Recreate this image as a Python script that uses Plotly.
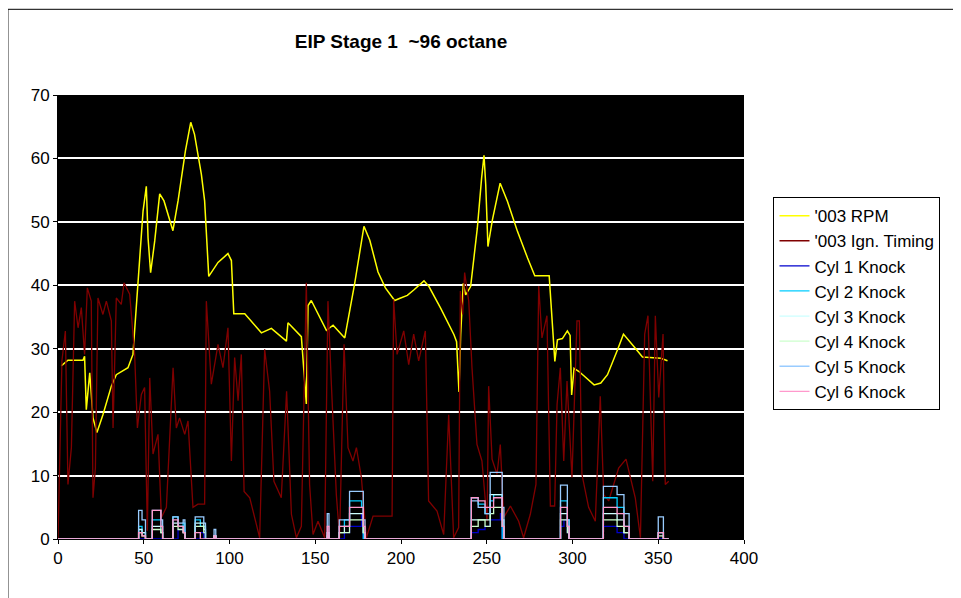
import plotly.graph_objects as go

rpm_x = [1.9, 5.8, 14.6, 15.5, 16.5, 18.5, 20.4, 22.7, 26.2, 31.1, 34, 40.8, 43.7, 46.6, 49.6, 51.5, 52.5, 54,
         56.4, 59.3, 61.8, 67, 70, 74.3, 77.4, 79.6, 83.6, 85.5, 87.9, 93.3, 99.1, 101.1, 102.5, 108.9, 115.7,
         118.6, 124.4, 133.2, 134.1, 141.9, 144.8, 145.8, 147.7, 156.5, 160.4, 167.2, 173, 178.4, 181.8, 186.6,
         190.9, 196.3, 199.8, 203.7, 207.6, 213.4, 216.3, 223.1, 230.9, 232.4, 233.8, 234.8, 236.3, 237.7,
         240.6, 244.5, 247, 248.4, 249.4, 250.7, 253.3, 257.8, 262.1, 267.9, 273.8, 278, 286.4, 288.3, 289.7,
         291.2, 294.1, 297, 298.6, 299.5, 300.9, 303.8, 312.6, 316.5, 320.4, 326.2, 329.7, 335.9, 340.8,
         351.5, 355.4]
rpm_y = [27.3, 28.2, 28.2, 28.8, 20.4, 26.2, 19.1, 16.8, 19.6, 24.1, 25.9, 27, 29.1, 40.7, 51.7, 55.6, 47.5, 42,
         47, 54.4, 53.3, 48.6, 53.3, 61.2, 65.7, 63.8, 57.5, 53.3, 41.4, 43.6, 45, 43.9, 35.5, 35.5, 33.4,
         32.5, 33.2, 31.2, 34.1, 31.9, 21.3, 36.8, 37.6, 32.9, 33.7, 31.7, 40.3, 49.3, 47.1, 42.1,
         39.6, 37.6, 38, 38.4, 39.3, 40.7, 39.8, 36.4, 32.2, 31.1, 23.2, 32.2, 40.3, 38.5,
         39.8, 49, 56.9, 60.5, 55.9, 46.1, 50.3, 56.1, 53.2, 48.5, 44.3, 41.5, 41.5, 34.3, 28,
         31.4, 31.6, 32.8, 32.1, 22.7, 26.9, 26.4, 24.3, 24.6, 25.9, 29.8, 32.3, 30.3, 28.7,
         28.5, 28.1]

ign_x = [0, 1, 2.3, 4.3, 5.8, 7.8, 9.7, 11.7, 13.6, 15.5, 17.1, 19.4, 20.4, 21.8, 23.3, 26.2, 28.2, 31.1, 32.1,
         34, 36.9, 38.5, 41.8, 44.7, 46.3, 48.6, 50.5, 52.1, 53.5, 55.4, 58.3, 60.3, 63.2, 67.1, 69, 70.9,
         73.9, 75.8, 78.7, 81.6, 85.5, 86.5, 89.4, 93.3, 96.2, 99.1, 101.1, 103, 105, 106.9, 108.5, 111.8,
         117.6, 120.5, 123.4, 125.9, 130.2, 133.3, 136.1, 139, 141.9, 144.8, 146.7, 148.7, 151.6, 155.5,
         157.4, 159.4, 162.3, 164.2, 166.8, 169.1, 172, 174, 176.9, 179.8, 183.7, 188.9, 194.8, 195.7,
         197.7, 201.6, 204.5, 207.4, 210.3, 214.2, 216.1, 221, 224.9, 227.8, 230.7, 233.6, 234.6, 236,
         237.1, 239.5, 241.4, 244.3, 247.2, 250.2, 251.1, 253.1, 256, 257.9, 259.9, 263.8, 268.6, 271.5,
         275.4, 278.7, 280.3, 282.2, 285.1, 287.1, 289.6, 291, 292.9, 294.9, 296.8, 299.7, 302.6, 304,
         305.5, 309.4, 313.3, 316.2, 318.2, 321.1, 326.9, 331.2, 336.6, 339.6, 342.1, 344, 346.8, 348.3,
         350.3, 352.8, 354.1, 356.1]
ign_y = [0, 13.9, 28.1, 32.8, 8.6, 14.4, 37.5, 33.3, 36.5, 29.1, 39.6, 37.5, 6.5, 11.2, 38, 35.4, 37.5, 34.4, 17.5,
         38, 37, 40.4, 38.6, 29.1, 17.5, 22.8, 23.9, 1.3, 25.4, 13.4, 16.5, 3.4, 5, 27, 17.5, 19.1,
         16.5, 18.6, 5, 5.5, 5.5, 37.5, 24.4, 30.7, 27, 33.3, 12.3, 28.6, 21.8, 29.1, 7.5, 6.5,
         0.2, 29.9, 23.3, 9.1, 6.5, 23.3, 3.9, 0.2, 2, 40.4, 8.6, 0.7, 2.8, 0.2,
         37.5, 24.4, 7, 0.2, 30.7, 14.4, 12.3, 14.4, 9.7, 0.2, 3.6, 3.6, 3.6, 37.8,
         29.1, 32.8, 27.5, 32.3, 28.1, 32.8, 6, 4.4, 0.7, 19.6, 0.2, 1.8, 39.1, 35.4,
         42, 37.5, 27, 14.9, 12.3, 2.8, 24.1, 12.6, 10.2, 14.9, 3.4, 5.2, 2.8, 0.2,
         3.9, 8.6, 39.9, 31.7, 35.2, 5.2, 5.2, 21.2, 27, 12.3, 24.9, 9.7, 34.4, 34.4,
         10.2, 5, 2.8, 22.5, 7, 6, 11.2, 12.6, 6.5, 0.2, 32.3, 35.2, 9.1, 35.2,
         22.3, 32.3, 8.6, 9.1]

knock_x = [0, 46, 47, 49, 51, 54, 55, 59, 60, 61, 66, 67, 70, 73, 74, 79, 80, 83, 85, 86, 90, 91, 92,
           156, 157, 158, 163, 164, 167, 170, 172, 177, 178, 179, 240, 241, 245, 249, 252, 254, 258, 259, 260,
           292, 293, 295, 297, 298, 317, 318, 322, 326, 330, 333, 349, 350, 352, 353, 356]
cyl1 = [0, 0, 0, 0, 0, 0, 0, 0, 0, 0, 0, 0, 1.5, 1.5, 0, 0, 0, 1, 0, 0, 0, 0.5, 0,
        0, 0, 0, 0, 0, 1, 2, 2, 4, 0, 0, 0, 1, 1.5, 2, 3, 3, 4, 0, 0,
        0, 2, 3, 1, 0, 0, 2, 2, 1, 0, 0, 0, 0, 0, 0, 0]
cyl2 = [0, 0, 2, 1, 0, 0, 3, 3, 2, 0, 0, 3.5, 2, 2.5, 0, 0, 3, 2, 2, 0, 0, 0.5, 0,
        0, 1, 0, 0, 2, 3, 6, 6, 5, 0, 0, 0, 6.5, 5.5, 4, 6, 7, 7, 0, 0,
        0, 6, 6, 3, 0, 0, 6.5, 6.5, 5, 2, 0, 0, 1, 1, 0, 0]
cyl3 = [0, 0, 1.5, 1, 0, 0, 2, 2, 1, 0, 0, 2.5, 2, 1, 0, 0, 2.5, 2.5, 1.5, 0, 0, 0.5, 0,
        0, 1, 0, 0, 1, 2, 4, 4, 4, 1, 0, 0, 3, 3, 3, 7, 7, 7, 3, 0,
        0, 4, 4, 2, 0, 0, 4, 4, 3, 1, 0, 0, 1, 1, 0, 0]
cyl4 = [0, 0, 1, 0.5, 0, 0, 1.5, 1.5, 1, 0, 0, 2, 1.5, 1, 0, 0, 2, 2, 1, 0, 0, 0.5, 0,
        0, 0.5, 0, 0, 1, 1, 3, 3, 3, 1, 0, 0, 2, 3, 2, 4, 5, 5, 2, 0,
        0, 3, 3, 1, 0, 0, 3, 3, 2, 1, 0, 0, 0.5, 0.5, 0, 0]
cyl5 = [0, 0, 4.5, 3, 0, 0, 4.5, 4.5, 3, 0, 0, 3.5, 2.5, 3, 0, 0, 3.5, 3.5, 2.5, 0, 0, 1.5, 0,
        0, 4, 0, 0, 3, 3, 7.5, 7.5, 7.5, 3, 0, 0, 6, 5, 4, 10.5, 10.5, 10.5, 5, 0,
        0, 8.5, 8.5, 3, 0, 0, 8.3, 8.3, 7, 4, 0, 0, 3.5, 3.5, 0, 0]
cyl6 = [0, 0, 1, 0.5, 0, 0, 4.5, 4.5, 2, 0, 0, 3, 2, 1, 0, 0, 1, 0, 0, 0, 0, 0.5, 0,
        0, 2, 0, 0, 2, 2, 5, 5, 5, 2, 0, 0, 6.5, 6, 5, 5, 6.5, 6.5, 2, 0,
        0, 5, 5, 2, 0, 0, 5, 5, 4, 2, 0, 0, 1, 1, 0, 0]

fig = go.Figure()
fig.add_trace(go.Scatter(x=rpm_x, y=rpm_y, mode='lines', name="'003 RPM", line=dict(color='#ffff00', width=1.5)))
fig.add_trace(go.Scatter(x=ign_x, y=ign_y, mode='lines', name="'003 Ign. Timing", line=dict(color='#800000', width=1.3)))
knock_cols = ['#0000cc', '#00ccff', '#ccffff', '#ccffcc', '#99ccff', '#ff99cc']
for i, ys in enumerate([cyl1, cyl2, cyl3, cyl4, cyl5, cyl6]):
    fig.add_trace(go.Scatter(x=knock_x, y=ys, mode='lines', name='Cyl %d Knock' % (i + 1),
                             line=dict(color=knock_cols[i], width=1.3, shape='hv')))

fig.update_layout(
    width=961, height=598,
    paper_bgcolor='white', plot_bgcolor='black',
    margin=dict(l=50, r=225, t=87, b=67),
    font=dict(family='Liberation Sans, Arial', size=17, color='black'),
    title=dict(text='<b>EIP Stage 1  ~96 octane</b>', x=0.5, xanchor='center', xref='paper', y=0.945,
               yanchor='middle', font=dict(size=19)),
    legend=dict(x=1.043, y=0.77, xanchor='left', yanchor='top', bordercolor='black', borderwidth=1,
                bgcolor='white', font=dict(size=17), tracegroupgap=0),
    shapes=[dict(type='rect', xref='paper', yref='paper', x0=-0.073, x1=1.328, y0=-0.148, y1=1.193,
                 line=dict(width=1, color='black'))],
)
fig.update_xaxes(range=[0, 400], dtick=50, showgrid=False, zeroline=False, ticks='outside', ticklen=4,
                 tickcolor='black', showline=True, linecolor='black')
fig.update_yaxes(range=[0, 70], dtick=10, showgrid=True, gridcolor='white', gridwidth=1.5, zeroline=False,
                 ticks='outside', ticklen=4, tickcolor='black', showline=True, linecolor='black')
fig.write_html("out.html")
